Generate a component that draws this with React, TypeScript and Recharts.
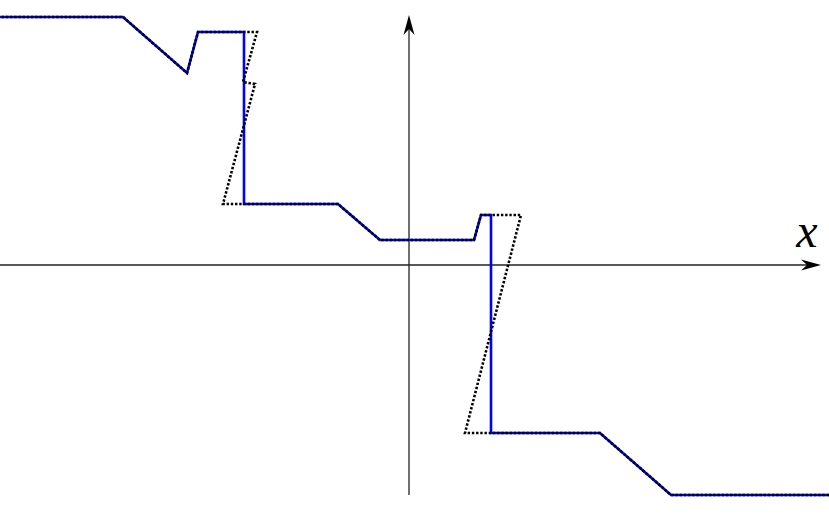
import React from "react";
import { LineChart, Line, XAxis, YAxis, ReferenceLine } from "recharts";

// Solid blue curve (x, y)
const blueX = [-4.2, -2.86, -2.22, -2.11, -1.65, -1.65, -0.71, -0.29, 0.65, 0.72, 0.82, 0.82, 1.91, 2.62, 4.3];
const blueY = [2.48, 2.48, 1.92, 2.33, 2.33, 0.61, 0.61, 0.25, 0.25, 0.5, 0.5, -1.68, -1.68, -2.3, -2.3];

// Dotted black curve (x, y)
const dotX = [-4.2, -2.86, -2.22, -2.11, -1.52, -1.66, -1.54, -1.86, -1.65, -0.71, -0.29, 0.65, 0.72, 1.12, 0.56, 0.82, 1.91, 2.62, 4.3];
const dotY = [2.48, 2.48, 1.92, 2.33, 2.33, 1.83, 1.81, 0.61, 0.61, 0.61, 0.25, 0.25, 0.5, 0.5, -1.68, -1.68, -1.68, -2.3, -2.3];

const xDomain = [-4.09, 4.2];
const yDomain = [-2.52, 2.65];
const xAxisEnds = [-4.09, 4.12];
const yAxisEnds = [-2.3, 2.5];
const axisLabel = "x";

const blueData = blueX.map((x, i) => ({ x, y: blueY[i] }));
const dotData = dotX.map((x, i) => ({ x, y: dotY[i] }));

const arrowShape = (withLabel: boolean) => (props: any) => {
  const { x1, y1, x2, y2 } = props;
  const dx = x2 - x1;
  const dy = y2 - y1;
  const len = Math.sqrt(dx * dx + dy * dy) || 1;
  const ux = dx / len;
  const uy = dy / len;
  const px = -uy;
  const py = ux;
  const L = 20;
  const W = 5.5;
  const notch = 14;
  const bx = x2 - ux * L;
  const by = y2 - uy * L;
  const nx = x2 - ux * notch;
  const ny = y2 - uy * notch;
  const pts = [
    [x2, y2],
    [bx + px * W, by + py * W],
    [nx, ny],
    [bx - px * W, by - py * W],
  ]
    .map((p) => p.join(","))
    .join(" ");
  return (
    <g>
      <line x1={x1} y1={y1} x2={nx} y2={ny} stroke="#222" strokeWidth={1.3} />
      <polygon points={pts} fill="#000" stroke="none" />
      {withLabel && (
        <text
          x={x2 - 14}
          y={y2 - 18}
          textAnchor="middle"
          fill="#000"
          fontFamily="Liberation Serif"
          fontStyle="italic"
          fontSize={48}
        >
          {axisLabel}
        </text>
      )}
    </g>
  );
};

export default function App() {
  return (
    <div style={{ position: "absolute", left: 0, top: 0, background: "#fff" }}>
      <LineChart width={829} height={517} margin={{ top: 0, right: 0, bottom: 0, left: 0 }}>
        <XAxis dataKey="x" type="number" domain={xDomain} allowDataOverflow hide />
        <YAxis type="number" domain={yDomain} allowDataOverflow hide />
        <ReferenceLine
          segment={[{ x: xAxisEnds[0], y: 0 }, { x: xAxisEnds[1], y: 0 }]}
          ifOverflow="visible"
          shape={arrowShape(true)}
        />
        <ReferenceLine
          segment={[{ x: 0, y: yAxisEnds[0] }, { x: 0, y: yAxisEnds[1] }]}
          ifOverflow="visible"
          shape={arrowShape(false)}
        />
        <Line
          data={blueData}
          dataKey="y"
          type="linear"
          stroke="#0000ff"
          strokeWidth={2.6}
          strokeLinejoin="miter"
          dot={false}
          activeDot={false}
          isAnimationActive={false}
        />
        <Line
          data={dotData}
          dataKey="y"
          type="linear"
          stroke="#000"
          strokeWidth={2.6}
          strokeDasharray="2.4 1.8"
          strokeLinejoin="miter"
          dot={false}
          activeDot={false}
          isAnimationActive={false}
        />
      </LineChart>
    </div>
  );
}
